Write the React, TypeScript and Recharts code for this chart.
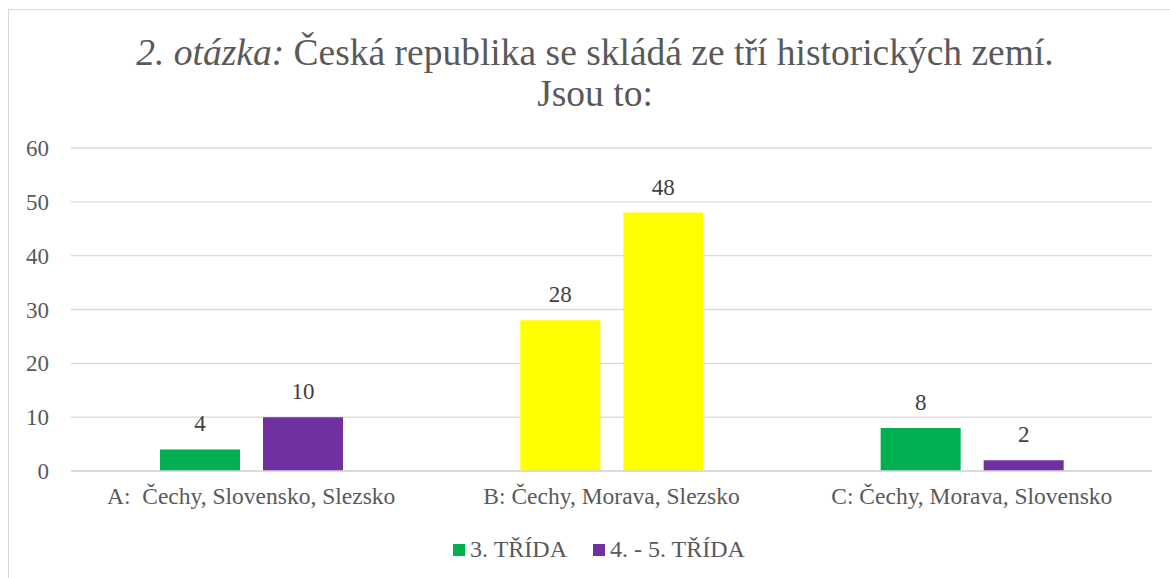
import { Bar, BarChart, CartesianGrid, Cell, LabelList, Legend, XAxis, YAxis } from "recharts";

const categories = ["A:\u00a0 Čechy, Slovensko, Slezsko", "B: Čechy, Morava, Slezsko", "C: Čechy, Morava, Slovensko"];
const grade3 = [4, 28, 8];
const grade45 = [10, 48, 2];
const yTicks = [0, 10, 20, 30, 40, 50, 60];
const highlighted = [false, true, false];

const GREEN = "#00b050";
const PURPLE = "#7030a0";
const YELLOW = "#ffff00";
const TEXT = "#595959";
const FONT = "Liberation Serif";

const data = categories.map((name, i) => ({
  name,
  g3: grade3[i],
  g45: grade45[i],
  hl: highlighted[i],
}));

const renderLegend = (props: any) => {
  const { payload } = props;
  return (
    <div style={{ display: "flex", justifyContent: "center", fontFamily: FONT, fontSize: 24, color: TEXT, paddingLeft: 46 }}>
      {payload.map((entry: any, i: number) => (
        <div key={entry.value} style={{ display: "flex", alignItems: "center", marginLeft: i === 0 ? 0 : 26 }}>
          <span style={{ display: "inline-block", width: 12, height: 12, background: entry.color, marginRight: 5 }} />
          <span>{entry.value}</span>
        </div>
      ))}
    </div>
  );
};

export default function App() {
  return (
    <div style={{ position: "absolute", left: 0, top: 0, width: 1170, height: 578, background: "#fff", overflow: "hidden" }}>
      <div style={{ position: "absolute", left: 8, top: 9, width: 1200, height: 600, border: "1px solid #d9d9d9" }} />
      <div
        style={{
          position: "absolute",
          left: 0,
          top: 32,
          width: 1190,
          textAlign: "center",
          fontFamily: FONT,
          fontSize: 37.5,
          lineHeight: "41px",
          color: TEXT,
        }}
      >
        <div>
          <i>2. otázka:</i> Česká republika se skládá ze tří historických zemí.
        </div>
        <div>Jsou to:</div>
      </div>
      <div style={{ position: "absolute", left: 0, top: 0 }}>
        <BarChart
          width={1170}
          height={578}
          data={data}
          margin={{ top: 148, right: 18, left: 0, bottom: 2 }}
          barSize={80}
          barGap={23}
        >
          <CartesianGrid vertical={false} stroke="#d9d9d9" strokeWidth={1.3} />
          <XAxis
            dataKey="name"
            tickLine={false}
            axisLine={{ stroke: "#d9d9d9", strokeWidth: 1.3 }}
            tick={{ fontFamily: FONT, fontSize: 23.5, fill: TEXT }}
            tickMargin={10}
            height={65}
            interval={0}
          />
          <YAxis
            domain={[0, 60]}
            ticks={yTicks}
            width={71}
            tickLine={false}
            axisLine={false}
            tick={{ fontFamily: FONT, fontSize: 23, fill: TEXT }}
            tickMargin={16}
          />
          <Legend verticalAlign="bottom" height={40} content={renderLegend} />
          <Bar dataKey="g3" name="3. TŘÍDA" fill={GREEN} isAnimationActive={false}>
            {data.map((d) => (
              <Cell key={d.name} fill={d.hl ? YELLOW : GREEN} />
            ))}
            <LabelList dataKey="g3" position="top" offset={18} fill="#404040" fontFamily={FONT} fontSize={23} />
          </Bar>
          <Bar dataKey="g45" name="4. - 5. TŘÍDA" fill={PURPLE} isAnimationActive={false}>
            {data.map((d) => (
              <Cell key={d.name} fill={d.hl ? YELLOW : PURPLE} />
            ))}
            <LabelList dataKey="g45" position="top" offset={18} fill="#404040" fontFamily={FONT} fontSize={23} />
          </Bar>
        </BarChart>
      </div>
    </div>
  );
}
